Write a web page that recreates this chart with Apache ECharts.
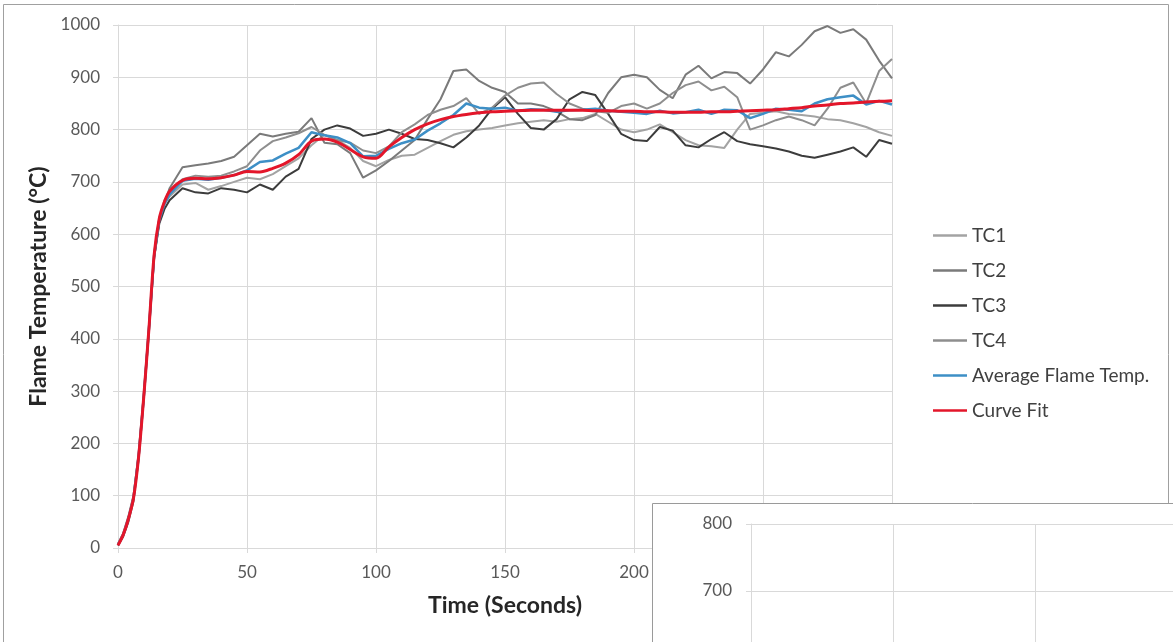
<!DOCTYPE html>
<html>
<head>
<meta charset="utf-8">
<script src="https://cdn.jsdelivr.net/npm/echarts@6/dist/echarts.min.js"></script>
<style>
html,body{margin:0;padding:0;background:#fff;width:1173px;height:642px;overflow:hidden;}
#chart{width:1300px;height:780px;}
</style>
</head>
<body>
<div id="chart"></div>
<script>
// Time (seconds)
const times = [0,2,4,6,8,10,12,14,16,18,
  20,25,30,35,40,45,50,55,60,65,70,75,80,85,90,95,100,105,110,115,
  120,125,130,135,140,145,150,155,160,165,170,175,180,185,190,195,200,205,210,215,
  220,225,230,235,240,245,250,255,260,265,270,275,280,285,290,295,300];

const tc1 = [5,25,55,95,175,290,425,565,632,658,
  672,695,698,685,692,700,708,705,715,730,745,770,790,780,765,740,730,742,750,752,
  765,778,790,797,800,803,808,812,815,818,815,820,822,830,815,800,795,800,810,795,
  780,770,768,765,800,830,832,835,830,828,825,820,818,812,805,795,788];

const tc2 = [8,28,60,100,180,295,420,555,625,658,
  688,728,732,735,740,748,770,792,787,792,796,822,775,772,755,708,722,740,760,780,
  820,858,912,915,893,880,872,850,850,845,835,820,818,828,870,900,905,900,876,860,
  905,922,898,910,908,888,915,948,940,962,988,998,985,992,972,932,898];

const tc3 = [5,22,50,90,170,285,415,555,620,648,
  665,688,680,678,688,685,680,695,685,710,725,782,800,808,802,788,792,800,792,782,
  780,774,766,785,808,840,862,830,803,800,820,858,872,866,830,792,780,778,805,798,
  770,766,782,795,778,772,768,764,758,750,746,752,758,766,748,780,773];

const tc4 = [6,26,56,97,178,292,422,560,630,665,
  680,705,712,710,712,720,730,760,778,785,793,805,790,780,775,760,755,768,795,810,
  828,838,845,860,830,842,865,880,888,890,868,850,840,835,832,845,850,840,850,870,
  885,892,875,882,862,800,808,818,825,818,808,840,880,890,850,912,935];

const avgTemp = [6,25,55,95,176,290,420,559,627,658,
  676,702,706,704,708,713,722,738,741,754,765,795,789,785,774,749,750,763,774,781,
  798,812,828,850,842,840,842,836,839,838,834,837,838,840,836,834,832,830,836,831,
  833,838,830,838,837,822,830,840,838,835,850,858,862,865,848,855,848];

const curveFit = [5,25,55,95,175,290,420,560,630,662,
  682,703,707,706,708,713,720,719,726,736,752,778,782,776,762,748,745,767,785,800,
  811,819,825,829,832,834,835,836,837,837,837,837,837,836,836,835,835,834,834,833,
  833,833,834,834,835,836,837,838,840,842,845,847,850,851,853,854,855];

const seriesNames = ['TC1','TC2','TC3','TC4','Average Flame Temp.','Curve Fit'];
const seriesData = [tc1, tc2, tc3, tc4, avgTemp, curveFit];
const seriesColors = ['#a3a3a3','#7a7a7a','#3c3c3c','#8e8e8e','#3d8fc6','#e3162a'];
const seriesWidths = [2,2,2,2,2.5,3];

const pairs = arr => times.map((t, i) => [t, arr[i]]);

const font = 'Lato, "Open Sans", sans-serif';
const gridColor = '#d9d9d9';
const labelColor = '#595959';
const plain = v => String(v);

const chart = echarts.init(document.getElementById('chart'), null, {renderer: 'canvas'});

const series = seriesNames.map((name, i) => ({
  name: name,
  type: 'line',
  xAxisIndex: 0,
  yAxisIndex: 0,
  data: pairs(seriesData[i]),
  symbol: 'none',
  smooth: i === 5 ? 0.3 : false,
  lineStyle: {color: seriesColors[i], width: seriesWidths[i]},
  itemStyle: {color: seriesColors[i]},
  z: 2 + i,
  animation: false
}));

chart.setOption({
  animation: false,
  backgroundColor: '#ffffff',
  textStyle: {fontFamily: font},
  graphic: [
    {type: 'rect', z: 1, shape: {x: 3.5, y: 4.5, width: 1165, height: 700},
     style: {fill: 'none', stroke: '#a0a0a0', lineWidth: 1}},
    {type: 'rect', z: 50, shape: {x: 652.5, y: 503.5, width: 640, height: 300},
     style: {fill: '#ffffff', stroke: '#9a9a9a', lineWidth: 1}}
  ],
  legend: {
    orient: 'vertical',
    left: 928,
    top: 221,
    icon: 'rect',
    itemWidth: 34,
    itemHeight: 2.5,
    itemGap: 16,
    data: seriesNames,
    textStyle: {fontFamily: font, fontSize: 19, color: '#404040'}
  },
  grid: [
    {left: 118, top: 25, width: 774, height: 523},
    {left: 751, top: 524, width: 426, height: 201}
  ],
  xAxis: [
    {
      type: 'value', gridIndex: 0, min: 0, max: 300, interval: 50,
      name: 'Time (Seconds)', nameLocation: 'middle', nameGap: 46,
      nameTextStyle: {fontFamily: font, fontSize: 23, fontWeight: 'bold', color: '#262626'},
      axisLine: {show: true, lineStyle: {color: gridColor}},
      axisTick: {show: true, length: 5, lineStyle: {color: gridColor}},
      splitLine: {show: true, lineStyle: {color: gridColor}},
      axisLabel: {fontFamily: font, fontSize: 17, color: labelColor, margin: 16, formatter: plain}
    },
    {
      type: 'value', gridIndex: 1, min: 0, max: 30, interval: 10, z: 60,
      axisLine: {show: true, lineStyle: {color: gridColor}},
      axisTick: {show: false},
      splitLine: {show: true, lineStyle: {color: gridColor}},
      axisLabel: {show: false}
    }
  ],
  yAxis: [
    {
      type: 'value', gridIndex: 0, min: 0, max: 1000, interval: 100,
      name: 'Flame Temperature (°C)', nameLocation: 'middle', nameGap: 66,
      nameTextStyle: {fontFamily: font, fontSize: 23, fontWeight: 'bold', color: '#262626'},
      axisLine: {show: true, lineStyle: {color: gridColor}},
      axisTick: {show: true, length: 5, lineStyle: {color: gridColor}},
      splitLine: {show: true, lineStyle: {color: gridColor}},
      axisLabel: {fontFamily: font, fontSize: 17, color: labelColor, margin: 18, formatter: plain}
    },
    {
      type: 'value', gridIndex: 1, min: 500, max: 800, interval: 100, z: 60,
      axisLine: {show: true, lineStyle: {color: gridColor}},
      axisTick: {show: true, length: 5, lineStyle: {color: gridColor}},
      splitLine: {show: true, lineStyle: {color: gridColor}},
      axisLabel: {fontFamily: font, fontSize: 17, color: labelColor, margin: 19, formatter: plain}
    }
  ],
  series: series
});
</script>
</body>
</html>
